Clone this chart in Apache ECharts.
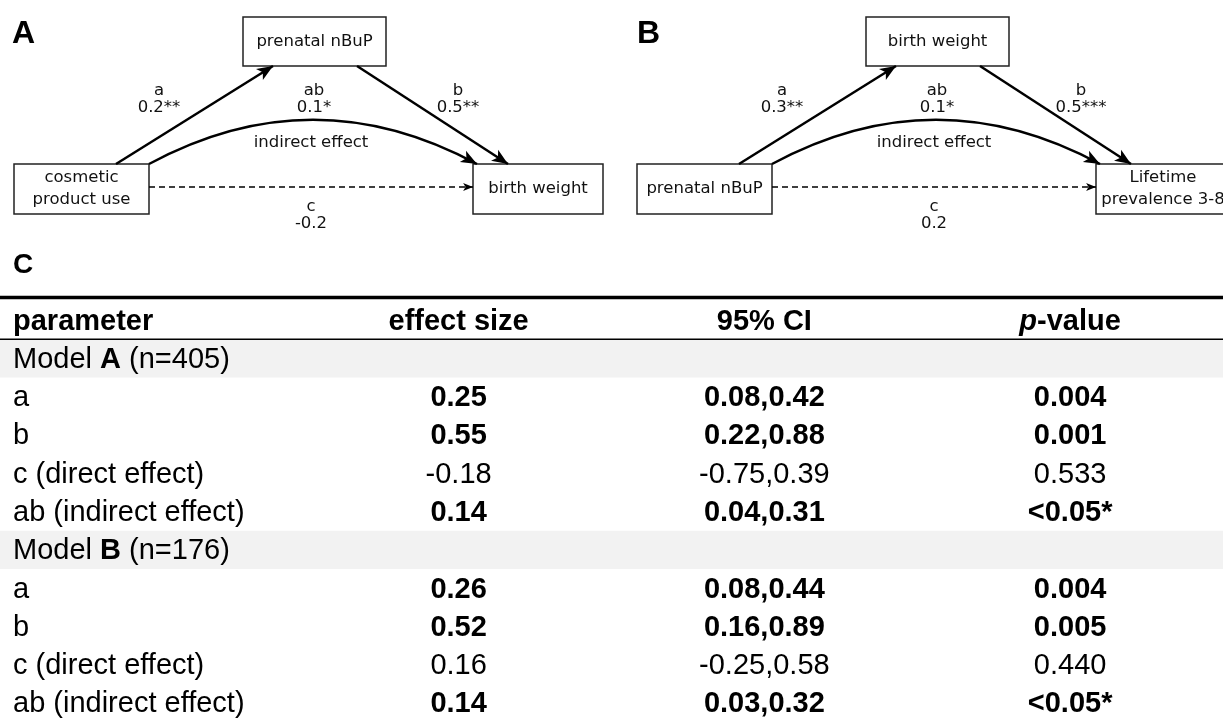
<!DOCTYPE html>
<html>
<head>
<meta charset="utf-8">
<script src="https://cdn.jsdelivr.net/npm/echarts/dist/echarts.min.js"></script>
<style>html,body{margin:0;padding:0;background:#fff}#c{width:1223px;height:722px}</style>
</head>
<body>
<div id="c"></div>
<script>
// ---------------- data ----------------
const panelLetters = ['A', 'B', 'C'];
const variablesA = ['cosmetic\nproduct use', 'prenatal nBuP', 'birth weight'];
const variablesB = ['prenatal nBuP', 'birth weight', 'Lifetime\nprevalence 3-8'];
const pathNames = ['a', 'b', 'ab', 'c'];
const pathCoefA = ['0.2**', '0.5**', '0.1*', '-0.2'];
const pathCoefB = ['0.3**', '0.5***', '0.1*', '0.2'];
const indirectLabel = 'indirect effect';

const tableHeader = ['parameter', 'effect size', '95% CI', 'p-value'];
const parameters = ['a', 'b', 'c (direct effect)', 'ab (indirect effect)'];
const modelNames = ['A', 'B'];
const modelN = [405, 176];
const effectA = [0.25, 0.55, -0.18, 0.14];
const ciA = ['0.08,0.42', '0.22,0.88', '-0.75,0.39', '0.04,0.31'];
const pA = ['0.004', '0.001', '0.533', '<0.05*'];
const effectB = [0.26, 0.52, 0.16, 0.14];
const ciB = ['0.08,0.44', '0.16,0.89', '-0.25,0.58', '0.03,0.32'];
const pB = ['0.004', '0.005', '0.440', '<0.05*'];

// ---------------- layout (pixel frame of the diagram grid) ----------------
const W = 1223, H = 722;
const DIAG_FONT = '"DejaVu Sans", sans-serif';
const TAB_FONT = '"Liberation Sans", Arial, sans-serif';
const INK = '#111';
const panelDx = [0, 623];
// [centre x, centre y, width, height] relative to panel; X, M, Y
const boxGeom = [[81.5, 189, 135, 50], [314.5, 41.5, 143, 49], [538, 189, 130, 50]];
const boxGeomWideY = [540, 189, 134, 50];
// edges in the order of pathNames: a, b, ab, c
const edgeGeom = [
  { from: [116, 164], to: [273, 66], curv: 0 },
  { from: [357, 66], to: [508, 164], curv: 0 },
  { from: [149, 164], to: [477, 164], curv: 0.27 },
  { from: [149, 187], to: [473, 187], curv: 0, dashed: true }
];
const edgeLabelPos = [[159, 99.5], [458, 99.5], [314, 99.5], [311, 215]];
const indirectPos = [311, 143];
const letterPos = [[12, 34], [637, 34], [13, 265]];
const letterSize = [32, 32, 28];
// arrow head with its tip at the symbol centre
const ARROW = 'path://M-17,-17 M17,17 M0,0 L6.5,16 L0,12 L-6.5,16 Z';

const TABLE_TOP = 301, ROW_H = 38.64, TAB_FS = 29;

// ---------------- diagram series ----------------
const boxItems = [];
const textItems = [];
const solidEdges = [];
const dashedEdges = [];
[[variablesA, pathCoefA], [variablesB, pathCoefB]].forEach(function (pd, pi) {
  const dx = panelDx[pi];
  pd[0].forEach(function (v, i) {
    const g = (v.indexOf('Lifetime') === 0) ? boxGeomWideY : boxGeom[i];
    boxItems.push({ value: [g[0] + dx, g[1], g[2], g[3]], text: v });
  });
  pathNames.forEach(function (nm, k) {
    const e = edgeGeom[k];
    const item = { coords: [[e.from[0] + dx, e.from[1]], [e.to[0] + dx, e.to[1]]], lineStyle: { curveness: e.curv } };
    (e.dashed ? dashedEdges : solidEdges).push(item);
    textItems.push({ value: [edgeLabelPos[k][0] + dx, edgeLabelPos[k][1]], text: nm + '\n' + pd[1][k], font: 'diag' });
  });
  textItems.push({ value: [indirectPos[0] + dx, indirectPos[1]], text: indirectLabel, font: 'diag' });
});
panelLetters.forEach(function (l, i) {
  textItems.push({ value: letterPos[i], text: l, font: 'letter', size: letterSize[i] });
});

// ---------------- table ----------------
const cells = [];
const shadedRows = [];
const fmtEffect = function (v) { return v.toFixed(2); };
const isSig = function (p) { return p.charAt(0) === '<' || parseFloat(p) < 0.05; };
tableHeader.forEach(function (h, c) {
  cells.push({ col: c, row: 0, bold: true, text: h === 'p-value' ? '{bi|p}{b|-value}' : h });
});
let rowIdx = 1;
[[effectA, ciA, pA], [effectB, ciB, pB]].forEach(function (m, mi) {
  shadedRows.push(rowIdx);
  cells.push({ col: 0, row: rowIdx, bold: false, text: '{r|Model }{b|' + modelNames[mi] + '}{r| (n=' + modelN[mi] + ')}' });
  rowIdx++;
  parameters.forEach(function (par, k) {
    const sig = isSig(m[2][k]);
    cells.push({ col: 0, row: rowIdx, bold: false, text: par });
    cells.push({ col: 1, row: rowIdx, bold: sig, text: fmtEffect(m[0][k]) });
    cells.push({ col: 2, row: rowIdx, bold: sig, text: m[1][k] });
    cells.push({ col: 3, row: rowIdx, bold: sig, text: m[2][k] });
    rowIdx++;
  });
});
const nRows = rowIdx;
const rowCats = []; for (let i = 0; i < nRows; i++) rowCats.push(String(i));

const richStyles = {
  r: { fontFamily: TAB_FONT, fontSize: TAB_FS, fontWeight: 'normal', fill: '#000' },
  b: { fontFamily: TAB_FONT, fontSize: TAB_FS, fontWeight: 'bold', fill: '#000' },
  bi: { fontFamily: TAB_FONT, fontSize: TAB_FS, fontWeight: 'bold', fontStyle: 'italic', fill: '#000' }
};

const option = {
  backgroundColor: '#fff',
  animation: false,
  grid: [
    { left: 0, top: 0, width: W, height: H, containLabel: false },
    { left: 0, top: TABLE_TOP, width: W, height: ROW_H * nRows, containLabel: false }
  ],
  xAxis: [
    { type: 'value', gridIndex: 0, min: 0, max: W, show: false },
    { type: 'category', gridIndex: 1, data: tableHeader, show: false }
  ],
  yAxis: [
    { type: 'value', gridIndex: 0, min: 0, max: H, inverse: true, show: false },
    { type: 'category', gridIndex: 1, data: rowCats, inverse: true, show: false }
  ],
  series: [
    // table: shaded model rows
    {
      type: 'custom', xAxisIndex: 1, yAxisIndex: 1, silent: true, z: 1,
      data: shadedRows.map(function (r) { return [0, r]; }),
      renderItem: function (params, api) {
        const p = api.coord([0, api.value(1)]);
        const s = api.size([1, 1]);
        const cs = params.coordSys;
        return { type: 'rect', shape: { x: cs.x, y: p[1] - s[1] / 2, width: cs.width, height: s[1] }, style: { fill: '#f2f2f2' } };
      }
    },
    // table: rules around the header
    {
      type: 'custom', xAxisIndex: 1, yAxisIndex: 1, silent: true, z: 2,
      data: [[0, 0]],
      renderItem: function (params, api) {
        const p = api.coord([0, api.value(1)]);
        const s = api.size([1, 1]);
        const cs = params.coordSys;
        const top = p[1] - s[1] / 2, bottom = p[1] + s[1] / 2;
        return { type: 'group', children: [
          { type: 'line', shape: { x1: cs.x, y1: top - 3.5, x2: cs.x + cs.width, y2: top - 3.5 }, style: { stroke: '#000', lineWidth: 3.5 } },
          { type: 'line', shape: { x1: cs.x, y1: bottom, x2: cs.x + cs.width, y2: bottom }, style: { stroke: '#000', lineWidth: 1.5 } }
        ] };
      }
    },
    // table: cell texts
    {
      type: 'custom', xAxisIndex: 1, yAxisIndex: 1, silent: true, z: 3,
      data: cells.map(function (c) { return [c.col, c.row]; }),
      renderItem: function (params, api) {
        const cell = cells[params.dataIndex];
        const p = api.coord([cell.col, cell.row]);
        const s = api.size([1, 1]);
        const x = cell.col === 0 ? p[0] - s[0] / 2 + 13 : p[0];
        return { type: 'text', style: {
          text: cell.text, x: x, y: p[1] + 1.5, align: cell.col === 0 ? 'left' : 'center', verticalAlign: 'middle',
          fontFamily: TAB_FONT, fontSize: TAB_FS, fontWeight: cell.bold ? 'bold' : 'normal', fill: '#000', rich: richStyles
        } };
      }
    },
    // diagram: variable boxes
    {
      type: 'custom', xAxisIndex: 0, yAxisIndex: 0, silent: true, z: 4,
      data: boxItems.map(function (b) { return b.value; }),
      renderItem: function (params, api) {
        const b = boxItems[params.dataIndex];
        const c = api.coord([api.value(0), api.value(1)]);
        const s = api.size([api.value(2), api.value(3)]);
        return { type: 'group', children: [
          { type: 'rect', shape: { x: c[0] - s[0] / 2, y: c[1] - s[1] / 2, width: s[0], height: s[1] },
            style: { fill: '#fff', stroke: '#222', lineWidth: 1.5 } },
          { type: 'text', style: { text: b.text, x: c[0], y: c[1], align: 'center', verticalAlign: 'middle',
            fontFamily: DIAG_FONT, fontSize: 16.5, lineHeight: 22, fill: INK } }
        ] };
      }
    },
    // diagram: solid paths a, b, ab
    {
      type: 'lines', coordinateSystem: 'cartesian2d', xAxisIndex: 0, yAxisIndex: 0, silent: true, z: 5,
      symbol: ['none', ARROW], symbolSize: [0, 34],
      lineStyle: { color: '#000', width: 2.5, opacity: 1 },
      data: solidEdges
    },
    // diagram: dashed direct path c
    {
      type: 'lines', coordinateSystem: 'cartesian2d', xAxisIndex: 0, yAxisIndex: 0, silent: true, z: 5,
      symbol: ['none', ARROW], symbolSize: [0, 21],
      lineStyle: { color: '#000', width: 1.5, type: [6, 4], opacity: 1 },
      data: dashedEdges
    },
    // diagram: path labels and panel letters
    {
      type: 'custom', xAxisIndex: 0, yAxisIndex: 0, silent: true, z: 6,
      data: textItems.map(function (t) { return t.value; }),
      renderItem: function (params, api) {
        const t = textItems[params.dataIndex];
        const c = api.coord([api.value(0), api.value(1)]);
        if (t.font === 'letter') {
          return { type: 'text', style: { text: t.text, x: c[0], y: c[1], align: 'left', verticalAlign: 'middle',
            fontFamily: TAB_FONT, fontWeight: 'bold', fontSize: t.size, fill: '#000' } };
        }
        return { type: 'text', style: { text: t.text, x: c[0], y: c[1], align: 'center', verticalAlign: 'middle',
          fontFamily: DIAG_FONT, fontSize: 16.5, lineHeight: 17, fill: INK } };
      }
    }
  ]
};

const chart = echarts.init(document.getElementById('c'), null, { renderer: 'canvas' });
chart.setOption(option);
</script>
</body>
</html>
